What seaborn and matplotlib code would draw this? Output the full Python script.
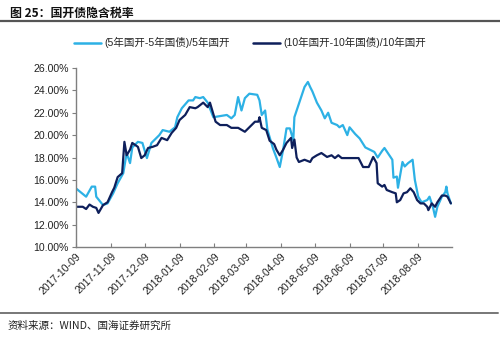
import matplotlib
matplotlib.use("Agg")
import matplotlib.pyplot as plt
import matplotlib.dates as mdates
from matplotlib.ticker import FuncFormatter, MultipleLocator
import seaborn as sns
import pandas as pd

# ---------------- data ----------------
name5 = "(5年国开-5年国债)/5年国开"
name10 = "(10年国开-10年国债)/10年国开"

dates5 = ["2017-10-09", "2017-10-18", "2017-10-23", "2017-10-26", "2017-10-27", "2017-11-02",
          "2017-11-06", "2017-11-11", "2017-11-15", "2017-11-20", "2017-11-23", "2017-11-26",
          "2017-11-28", "2017-12-03", "2017-12-07", "2017-12-11", "2017-12-15", "2017-12-22",
          "2017-12-25", "2017-12-31", "2018-01-05", "2018-01-07", "2018-01-11", "2018-01-17",
          "2018-01-21", "2018-01-23", "2018-01-27", "2018-01-30", "2018-02-03", "2018-02-08",
          "2018-02-14", "2018-02-20", "2018-02-24", "2018-02-27", "2018-03-02", "2018-03-05",
          "2018-03-08", "2018-03-12", "2018-03-19", "2018-03-21", "2018-03-23", "2018-03-26",
          "2018-03-28", "2018-04-02", "2018-04-05", "2018-04-08", "2018-04-11", "2018-04-14",
          "2018-04-17", "2018-04-20", "2018-04-21", "2018-04-26", "2018-04-30", "2018-05-03",
          "2018-05-05", "2018-05-07", "2018-05-11", "2018-05-15", "2018-05-18", "2018-05-21",
          "2018-05-24", "2018-05-29", "2018-05-31", "2018-06-03", "2018-06-07", "2018-06-09",
          "2018-06-14", "2018-06-18", "2018-06-23", "2018-06-27", "2018-07-01", "2018-07-04",
          "2018-07-08", "2018-07-10", "2018-07-13", "2018-07-17", "2018-07-18", "2018-07-21",
          "2018-07-22", "2018-07-26", "2018-07-28", "2018-07-31", "2018-08-04", "2018-08-06",
          "2018-08-09", "2018-08-12", "2018-08-17", "2018-08-19", "2018-08-22", "2018-08-24",
          "2018-08-26", "2018-08-30", "2018-09-02", "2018-09-03", "2018-09-04", "2018-09-07"]
values5 = [15.24, 14.5, 15.4, 15.4, 14.5, 13.75,
           13.9, 14.8, 15.7, 16.6, 18.4, 17.5,
           18.9, 19.4, 19.3, 17.95, 19.3, 20.0,
           20.45, 20.3, 20.7, 21.6, 22.4, 23.1,
           23.1, 23.4, 23.3, 23.4, 22.9, 21.6,
           21.7, 21.8, 21.5, 21.8, 23.4, 22.2,
           23.3, 23.7, 23.6, 23.1, 21.8, 22.2,
           20.5, 18.8, 18.0, 17.15, 18.7, 20.6,
           20.6, 19.55, 21.6, 23.1, 24.3, 24.75,
           24.3, 23.9, 22.9, 22.2, 21.5, 22.0,
           21.1, 20.9, 20.7, 20.9, 20.0, 20.7,
           20.1, 19.7, 18.9, 18.7, 18.5, 18.0,
           18.6, 18.85, 18.4, 17.8, 16.2, 16.3,
           15.3, 17.6, 17.2, 17.5, 17.8, 16.0,
           14.5, 14.0, 14.2, 14.5, 13.6, 12.7,
           13.6, 14.5, 14.9, 15.4, 14.8, 13.9]

dates10 = ["2017-10-09", "2017-10-15", "2017-10-18", "2017-10-21", "2017-10-24", "2017-10-27",
           "2017-10-29", "2017-11-02", "2017-11-06", "2017-11-10", "2017-11-12", "2017-11-15",
           "2017-11-19", "2017-11-21", "2017-11-23", "2017-11-26", "2017-11-28", "2017-12-03",
           "2017-12-06", "2017-12-09", "2017-12-12", "2017-12-16", "2017-12-20", "2017-12-24",
           "2017-12-29", "2018-01-02", "2018-01-06", "2018-01-09", "2018-01-14", "2018-01-18",
           "2018-01-23", "2018-01-25", "2018-01-30", "2018-02-03", "2018-02-05", "2018-02-10",
           "2018-02-14", "2018-02-20", "2018-02-24", "2018-03-02", "2018-03-08", "2018-03-12",
           "2018-03-17", "2018-03-20", "2018-03-21", "2018-03-23", "2018-03-27", "2018-03-30",
           "2018-04-03", "2018-04-05", "2018-04-08", "2018-04-11", "2018-04-14", "2018-04-18",
           "2018-04-19", "2018-04-21", "2018-04-23", "2018-04-25", "2018-04-30", "2018-05-05",
           "2018-05-07", "2018-05-11", "2018-05-15", "2018-05-20", "2018-05-24", "2018-05-27",
           "2018-05-30", "2018-06-02", "2018-06-07", "2018-06-12", "2018-06-17", "2018-06-21",
           "2018-06-26", "2018-06-30", "2018-07-03", "2018-07-04", "2018-07-08", "2018-07-10",
           "2018-07-12", "2018-07-17", "2018-07-20", "2018-07-21", "2018-07-24", "2018-07-27",
           "2018-07-30", "2018-08-02", "2018-08-05", "2018-08-08", "2018-08-11", "2018-08-14",
           "2018-08-17", "2018-08-18", "2018-08-21", "2018-08-24", "2018-08-26", "2018-08-30",
           "2018-09-02", "2018-09-04", "2018-09-07"]
values10 = [13.6, 13.6, 13.4, 13.8, 13.6, 13.5,
            13.05, 13.75, 14.0, 14.9, 15.3, 16.25,
            16.6, 19.4, 18.2, 18.7, 19.3, 18.95,
            17.95, 18.2, 18.85, 18.95, 19.1, 19.75,
            19.55, 20.2, 20.65, 21.35, 21.8, 22.5,
            22.4, 22.5, 22.9, 22.5, 22.9, 21.2,
            20.9, 20.9, 20.65, 20.65, 20.3, 20.7,
            21.2, 21.2, 21.6, 20.65, 20.45, 19.5,
            19.2, 18.7, 18.2, 18.7, 19.3, 19.75,
            18.85, 19.6, 18.0, 17.6, 17.8, 17.6,
            17.95, 18.2, 18.4, 18.05, 18.2, 17.95,
            18.2, 17.95, 17.95, 17.95, 17.95, 17.15,
            17.15, 18.05, 17.5, 15.7, 15.4, 15.55,
            15.1, 14.9, 14.8, 14.0, 14.2, 14.8,
            14.9, 15.25, 14.9, 14.2, 13.9, 13.9,
            13.6, 13.3, 13.9, 13.6, 14.0, 14.6,
            14.6, 14.5, 13.9]

tick_labels = ["2017-10-09", "2017-11-09", "2017-12-09", "2018-01-09", "2018-02-09",
               "2018-03-09", "2018-04-09", "2018-05-09", "2018-06-09", "2018-07-09", "2018-08-09"]

title_text = "图 25：国开债隐含税率"
source_text = "资料来源：WIND、国海证券研究所"

# ---------------- frame ----------------
df = pd.concat([
    pd.DataFrame({"date": pd.to_datetime(dates5), "value": values5, "series": name5}),
    pd.DataFrame({"date": pd.to_datetime(dates10), "value": values10, "series": name10}),
], ignore_index=True)

sns.set_theme(style="white")
plt.rcParams["font.family"] = ["Liberation Sans", "Noto Sans CJK SC", "DejaVu Sans"]

fig = plt.figure(figsize=(5.0, 3.38), dpi=100)
ax = fig.add_axes([0.152, 0.269, 0.752, 0.530])

palette = {name5: "#2DB1E5", name10: "#0E1F5B"}
sns.lineplot(data=df, x="date", y="value", hue="series", palette=palette,
             estimator=None, linewidth=1.6, ax=ax, legend=False)

ax.set_ylim(10, 26)
ax.yaxis.set_major_locator(MultipleLocator(2))
ax.yaxis.set_major_formatter(FuncFormatter(lambda v, p: f"{v:.2f}%"))
ax.set_xlim(pd.Timestamp("2017-10-09"), pd.Timestamp("2018-09-08"))
ax.set_xticks(pd.to_datetime(tick_labels))
ax.set_xticklabels(tick_labels, rotation=45, ha="right", rotation_mode="anchor")
ax.set_xlabel("")
ax.set_ylabel("")

for s in ["top", "right"]:
    ax.spines[s].set_visible(False)
for s in ["left", "bottom"]:
    ax.spines[s].set_color("#7f7f7f")
    ax.spines[s].set_linewidth(1.0)

ax.tick_params(axis="y", direction="out", length=3, width=0.8, color="#7f7f7f",
               labelsize=7.6, labelcolor="#222222", pad=2, left=True)
ax.tick_params(axis="x", direction="in", length=3, width=0.8, color="#7f7f7f",
               labelsize=7.6, labelcolor="#222222", pad=3, bottom=True)

# legend
from matplotlib.lines import Line2D
handles = [Line2D([], [], color=palette[name5], lw=1.8),
           Line2D([], [], color=palette[name10], lw=1.8)]
fig.legend(handles, [name5, name10], loc="center", bbox_to_anchor=(0.5, 0.873),
           ncol=2, frameon=False, fontsize=7.6, handlelength=2.6, handletextpad=0.3,
           columnspacing=2.2)

# title and source with rules
fig.text(0.02, 0.962, title_text, fontsize=8.6, fontweight="bold", color="#111111",
         va="center", ha="left", family=["Noto Sans CJK SC", "DejaVu Sans"])
fig.add_artist(Line2D([0.0, 1.0], [0.938, 0.938], color="#555555", lw=1.6,
                      transform=fig.transFigure))
fig.add_artist(Line2D([0.0, 0.995], [0.074, 0.074], color="#777777", lw=1.4,
                      transform=fig.transFigure))
fig.text(0.016, 0.035, source_text, fontsize=7.6, color="#222222", va="center",
         ha="left", family=["Noto Sans CJK SC", "DejaVu Sans"])

fig.savefig("out.png", dpi=100)
